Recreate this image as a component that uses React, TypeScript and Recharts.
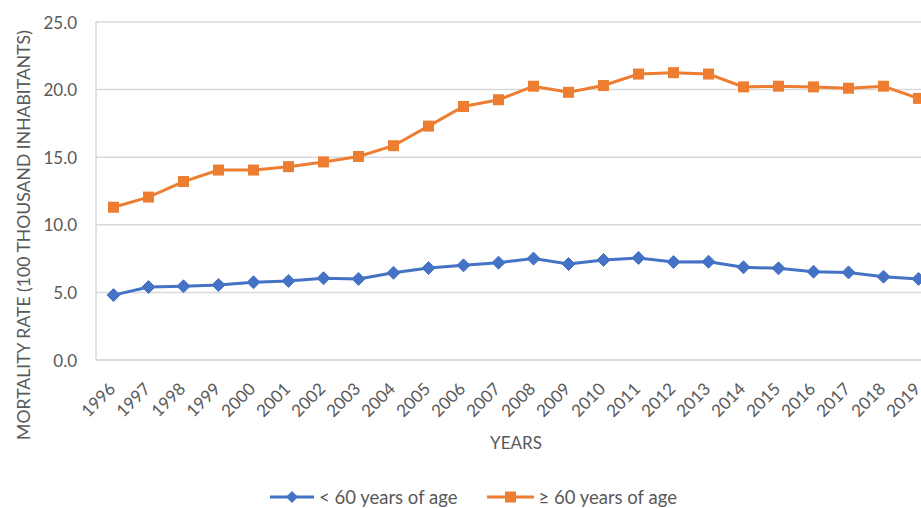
import React from "react";
import { LineChart, Line, XAxis, YAxis, CartesianGrid, Legend } from "recharts";

const years = [
  "1996", "1997", "1998", "1999", "2000", "2001", "2002", "2003", "2004", "2005", "2006", "2007",
  "2008", "2009", "2010", "2011", "2012", "2013", "2014", "2015", "2016", "2017", "2018", "2019",
];
const under60 = [
  4.8, 5.4, 5.45, 5.55, 5.75, 5.85, 6.05, 6.0, 6.45, 6.8, 7.0, 7.2,
  7.5, 7.1, 7.4, 7.55, 7.25, 7.27, 6.86, 6.78, 6.53, 6.48, 6.16, 6.0,
];
const over60 = [
  11.3, 12.05, 13.2, 14.05, 14.05, 14.3, 14.65, 15.05, 15.85, 17.3, 18.75, 19.25,
  20.25, 19.8, 20.3, 21.15, 21.25, 21.15, 20.2, 20.25, 20.2, 20.1, 20.25, 19.35,
];
const yTicks = [0, 5, 10, 15, 20, 25];
const seriesNames = ["< 60 years of age", "\u2265 60 years of age"];
const yTitle = "MORTALITY RATE (100 THOUSAND INHABITANTS)";
const xTitle = "YEARS";

const data = years.map((y, i) => ({ year: y, under: under60[i], over: over60[i] }));

const BLUE = "#4472C4";
const ORANGE = "#ED7D31";
const GRID = "#d9d9d9";
const TEXT = "#595959";
const FONT = "Lato, 'Open Sans', sans-serif";

const Diamond = (props: any) => {
  const { cx, cy } = props;
  if (cx == null || cy == null) return null;
  const r = 6.5;
  return (
    <path
      d={`M${cx},${cy - r} L${cx + r},${cy} L${cx},${cy + r} L${cx - r},${cy} Z`}
      fill={BLUE}
      stroke={BLUE}
      strokeWidth={1}
    />
  );
};

const Square = (props: any) => {
  const { cx, cy } = props;
  if (cx == null || cy == null) return null;
  const s = 11;
  return <rect x={cx - s / 2} y={cy - s / 2} width={s} height={s} fill={ORANGE} />;
};

const XTick = (props: any) => {
  const { x, y, payload } = props;
  const ax = x + 3;
  const ay = y + 28;
  return (
    <text
      x={ax}
      y={ay}
      textAnchor="end"
      fill={TEXT}
      fontSize={17}
      fontFamily={FONT}
      transform={`rotate(-45, ${ax}, ${ay})`}
    >
      {payload.value}
    </text>
  );
};

const YTick = (props: any) => {
  const { x, y, payload } = props;
  return (
    <text x={x} y={y} textAnchor="end" dominantBaseline="central" fill={TEXT} fontSize={17} fontFamily={FONT}>
      {Number(payload.value).toFixed(1)}
    </text>
  );
};

const YTitle = () => {
  const cx = 15;
  const cy = 227;
  return (
    <text
      x={cx}
      y={cy}
      textAnchor="middle"
      dominantBaseline="central"
      fill={TEXT}
      fontSize={17.6}
      fontFamily={FONT}
      transform={`rotate(-90, ${cx}, ${cy})`}
    >
      {yTitle}
    </text>
  );
};

const XTitle = (props: any) => {
  const { viewBox } = props;
  const cx = viewBox ? viewBox.x + viewBox.width / 2 : 508;
  return (
    <text x={cx} y={434} textAnchor="middle" dominantBaseline="central" fill={TEXT} fontSize={17} fontFamily={FONT}>
      {xTitle}
    </text>
  );
};

const LegendContent = () => (
  <div style={{ display: "flex", alignItems: "center", fontFamily: FONT, fontSize: 18.5, lineHeight: "20px", color: TEXT, whiteSpace: "nowrap" }}>
    <svg width={44} height={14} style={{ marginRight: 5 }}>
      <line x1={0} y1={7} x2={44} y2={7} stroke={BLUE} strokeWidth={3} />
      <path d="M22,1 L28,7 L22,13 L16,7 Z" fill={BLUE} />
    </svg>
    <span>{seriesNames[0]}</span>
    <svg width={47} height={14} style={{ marginLeft: 30, marginRight: 4 }}>
      <line x1={0} y1={7} x2={47} y2={7} stroke={ORANGE} strokeWidth={3} />
      <rect x={18} y={1.5} width={11} height={11} fill={ORANGE} />
    </svg>
    <span>{seriesNames[1]}</span>
  </div>
);

export default function App() {
  return (
    <div style={{ position: "fixed", left: 0, top: 0, width: 921, height: 508, overflow: "hidden", background: "#fff" }}>
      <div style={{ position: "absolute", left: 8, top: 8 }}>
        <LineChart
          width={940}
          height={500}
          data={data}
          margin={{ top: 14, right: 12, left: 0, bottom: 88 }}
        >
          <CartesianGrid horizontal={true} vertical={false} stroke={GRID} strokeWidth={1.5} />
          <XAxis
            dataKey="year"
            height={60}
            interval={0}
            padding={{ left: 17.5, right: 17.5 }}
            axisLine={{ stroke: GRID, strokeWidth: 1.5 }}
            tickLine={false}
            tickSize={0}
            tick={<XTick />}
            label={<XTitle />}
          />
          <YAxis
            width={88}
            domain={[0, 25]}
            ticks={yTicks}
            interval={0}
            axisLine={{ stroke: GRID, strokeWidth: 1.5 }}
            tickLine={false}
            tickSize={0}
            tickMargin={19}
            tick={<YTick />}
            label={<YTitle />}
          />
          <Line
            dataKey="under"
            name={seriesNames[0]}
            stroke={BLUE}
            strokeWidth={3}
            dot={<Diamond />}
            activeDot={false}
            isAnimationActive={false}
          />
          <Line
            dataKey="over"
            name={seriesNames[1]}
            stroke={ORANGE}
            strokeWidth={3}
            dot={<Square />}
            activeDot={false}
            isAnimationActive={false}
          />
          <Legend
            layout="horizontal"
            verticalAlign="middle"
            align="center"
            wrapperStyle={{ top: 479, left: 262, width: "auto" }}
            content={<LegendContent />}
          />
        </LineChart>
      </div>
    </div>
  );
}
